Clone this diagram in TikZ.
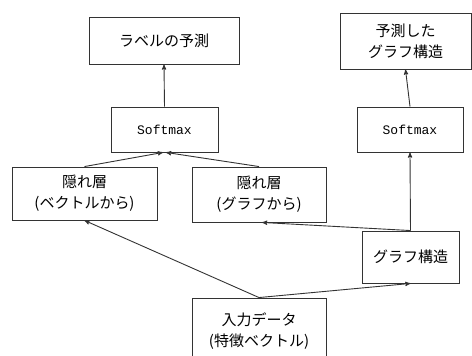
\documentclass[tikz,border=0pt]{standalone}
\usepackage{fontspec}
\setmainfont{Noto Sans CJK JP}
\newfontfamily\smfont{Liberation Mono}
\usetikzlibrary{arrows}

\begin{document}
\begin{tikzpicture}[x=1pt,y=-1pt,
    box/.style={draw=black!80, line width=0.9pt, align=center, inner sep=0pt,
      font=\fontsize{15}{21}\selectfont},
    smbox/.style={box, font=\smfont\fontsize{13}{15}\selectfont},
    arr/.style={->, >=stealth', draw=black!80, line width=0.9pt}]
    \useasboundingbox (0,0) rectangle (472,356);
    % output boxes
    \node[box, minimum width=150, minimum height=47] (labelpred) at (164,40.5) {ラベルの予測};
    \node[box, minimum width=131, minimum height=56] (graphpred) at (405.5,41) {予測した\\グラフ構造};
    % softmax
    \node[smbox, minimum width=107, minimum height=45] (smleft) at (164.5,129.5) {Softmax};
    \node[smbox, minimum width=106, minimum height=45] (smright) at (410,129.5) {Softmax};
    % hidden layers
    \node[box, minimum width=145, minimum height=53] (hidvec) at (84.5,193.5) {隠れ層\\(ベクトルから)};
    \node[box, minimum width=134, minimum height=55] (hidgraph) at (259,194.5) {隠れ層\\(グラフから)};
    \node[box, minimum width=97, minimum height=52] (graph) at (410.5,257) {グラフ構造};
    % input
    \node[box, minimum width=134, minimum height=66] (input) at (259,331) {入力データ\\(特徴ベクトル)};

    \draw[arr] (smleft.north) -- (labelpred.south);
    \draw[arr] (smright.north) -- (graphpred.south);
    \draw[arr] (hidvec.north) -- ([xshift=-1.5]smleft.south);
    \draw[arr] (hidgraph.north) -- ([xshift=1.5]smleft.south);
    \draw[arr] (graph.north) -- (smright.south);
    \draw[arr] (graph.north) -- ([xshift=3]hidgraph.south);
    \draw[arr] (input.north) -- (hidvec.south);
    \draw[arr] (input.north) -- (graph.south);
\end{tikzpicture}
\end{document}
